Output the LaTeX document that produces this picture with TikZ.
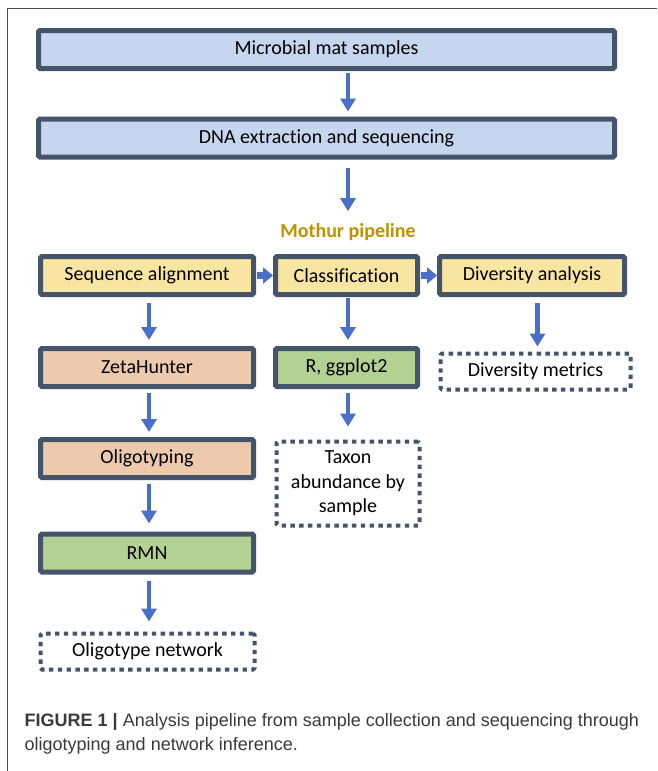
\documentclass[tikz,border=0pt]{standalone}
\usepackage{fontspec}
\setmainfont[Ligatures=NoCommon,RawFeature={-liga;-clig;-dlig}]{Carlito}
\newfontfamily\capfont{Liberation Sans}
\usetikzlibrary{arrows.meta,calc}
\definecolor{bordc}{HTML}{44546A}
\definecolor{bluef}{HTML}{C6D6EE}
\definecolor{yelf}{HTML}{F9E5A2}
\definecolor{peachf}{HTML}{EDCAAE}
\definecolor{greenf}{HTML}{B3D193}
\definecolor{arrc}{HTML}{4A6FC8}
\definecolor{goldc}{HTML}{BF9000}
\definecolor{capc}{HTML}{3A3A3A}
\definecolor{framec}{HTML}{4A4A4A}
\tikzset{
  pbox/.style={draw=bordc, line width=5pt, rounded corners=1.5pt, inner sep=0pt,
    minimum height=38pt, font=\fontsize{20}{24}\selectfont, text=black},
  dbox/.style={draw=bordc, line width=4pt, dash pattern=on 4.4pt off 4.4pt,
    rounded corners=1.5pt, inner sep=0pt, fill=white,
    minimum height=36pt, font=\fontsize{20}{24}\selectfont, text=black, align=center},
  varr/.style={draw=arrc, line width=4.5pt, -{Triangle[width=15pt,length=13pt]}},
  harr/.style={draw=arrc, line width=7pt, -{Triangle[width=16pt,length=10pt]}},
  captext/.style={anchor=west, inner sep=0pt, text=capc, font=\capfont\fontsize{18}{24}\selectfont},
}
\begin{document}
\begin{tikzpicture}[x=1pt,y=-1pt]
\useasboundingbox (0,0) rectangle (657,771);
% frame
\draw[framec, line width=1.4pt] (7.5,771) -- (7.5,8.5) -- (657,8.5);
% top boxes
\node[pbox, fill=bluef, minimum width=576pt] (mat) at (326.5,49.5) {Microbial mat samples};
\node[pbox, fill=bluef, minimum width=576pt] (dna) at (326.5,138) {DNA extraction and sequencing};
\node[font=\bfseries\fontsize{20}{24}\selectfont, text=goldc, inner sep=0pt] (moth) at (348,232) {Mothur pipeline};
% row 3
\node[pbox, fill=yelf, minimum width=213pt] (seq) at (147,275.5) {Sequence alignment};
\node[pbox, fill=yelf, minimum width=142pt] (cls) at (346.5,275.5) {Classification};
\node[pbox, fill=yelf, minimum width=185pt] (div) at (532,275.5) {Diversity analysis};
% row 4
\node[pbox, fill=peachf, minimum width=213pt] (zeta) at (147,367.5) {ZetaHunter};
\node[pbox, fill=greenf, minimum width=142pt] (rgg) at (346.5,367.5) {R, ggplot2};
\node[dbox, minimum width=190pt] (divm) at (535.5,371.5) {Diversity metrics};
% lower
\node[pbox, fill=peachf, minimum width=213pt] (oligo) at (147,458.5) {Oligotyping};
\node[dbox, minimum width=143pt, minimum height=84pt] (tax) at (348,483.5)
  {Taxon\\[0.5pt]abundance by\\[0.5pt]sample};
\node[pbox, fill=greenf, minimum width=213pt] (rmn) at (147,553) {RMN};
\node[dbox, minimum width=214pt] (net) at (147.5,651.5) {Oligotype network};
% coordinates for arrow columns
\coordinate (c1) at (348,0);
\coordinate (cl) at (149,0);
\coordinate (cr) at (537.5,0);
% arrows
\draw[varr, shorten <=2pt, shorten >=5pt] (mat.south -| c1) -- (dna.north -| c1);
\draw[varr, shorten <=8pt, shorten >=2pt] (dna.south -| c1) -- ($(moth.north -| c1)+(0,-10)$);
\draw[harr, shorten <=1pt, shorten >=0pt] (seq.east) -- (cls.west);
\draw[harr, shorten <=1pt, shorten >=0pt] (cls.east) -- (div.west);
\draw[varr, shorten <=6pt, shorten >=6pt] (seq.south -| cl) -- (zeta.north -| cl);
\draw[varr, shorten <=1pt, shorten >=6pt] (cls.south -| c1) -- (rgg.north -| c1);
\draw[varr, shorten <=6pt, shorten >=5pt] (div.south -| cr) -- (divm.north -| cr);
\draw[varr, shorten <=4pt, shorten >=5pt] (zeta.south -| cl) -- (oligo.north -| cl);
\draw[varr, shorten <=4pt, shorten >=13pt] (rgg.south -| c1) -- (tax.north -| c1);
\draw[varr, shorten <=4pt, shorten >=8pt] (oligo.south -| cl) -- (rmn.north -| cl);
\draw[varr, shorten <=6pt, shorten >=10pt] (rmn.south -| cl) -- (net.north -| cl);
% caption
\node[captext] (cap1) at (24.5,722)
  {\textbf{FIGURE 1 |} Analysis pipeline from sample collection and sequencing through};
\node[captext] (cap2) at (24.5,746)
  {oligotyping and network inference.};
\end{tikzpicture}
\end{document}
